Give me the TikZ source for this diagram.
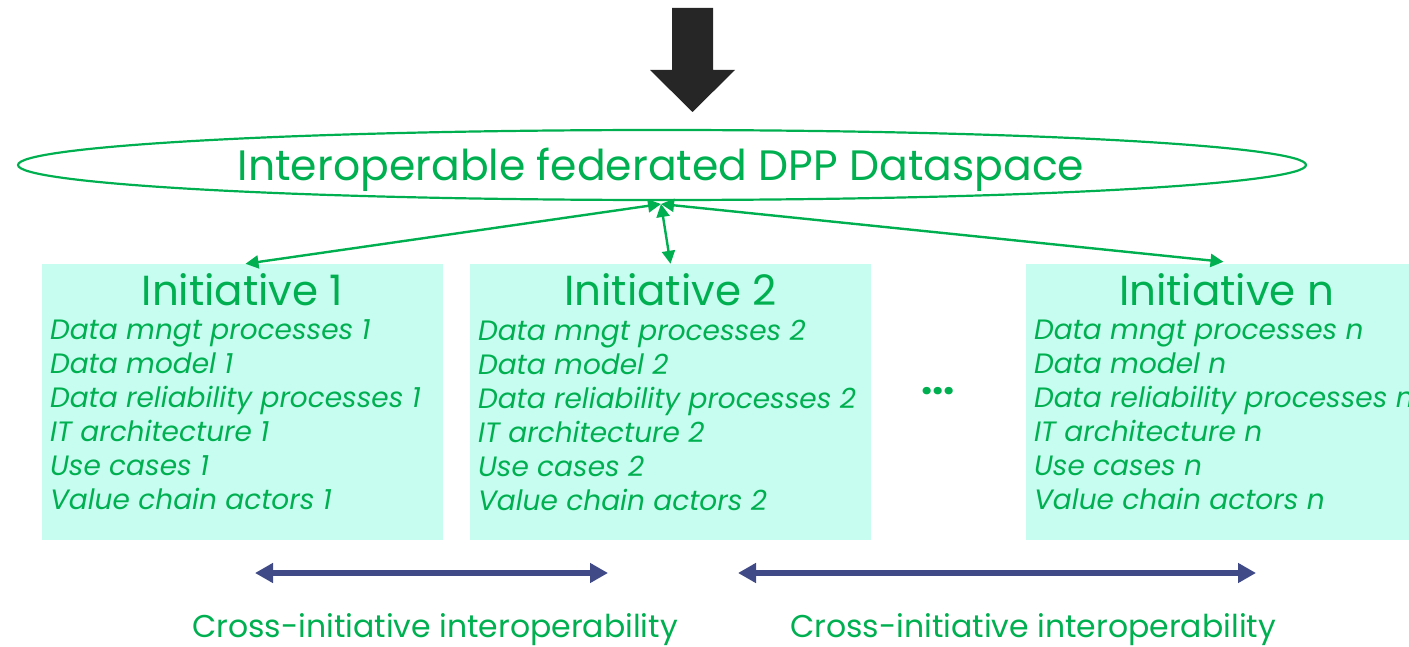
\documentclass[tikz,border=0pt]{standalone}
\usepackage{fontspec}
\setmainfont{Poppins}
\usepackage{xcolor}
\usetikzlibrary{arrows.meta, shapes.geometric, positioning}

\definecolor{dppgreen}{RGB}{0,176,80}
\definecolor{boxmint}{RGB}{199,252,241}
\definecolor{navy}{RGB}{63,74,135}
\definecolor{darkarrow}{RGB}{38,38,38}

\begin{document}
\begin{tikzpicture}[
  x=1pt, y=-1pt,
  space/.style = {
    ellipse, draw=dppgreen, line width=2.2pt,
    minimum width=1288pt, minimum height=70pt, inner sep=0pt,
    text=dppgreen, font=\fontsize{42.5}{48}\selectfont
  },
  initbox/.style = {
    rectangle, fill=boxmint, draw=none,
    minimum width=401pt, minimum height=276pt, inner sep=0pt
  },
  inittitle/.style = {text=dppgreen, font=\fontsize{42}{48}\selectfont, inner sep=0pt},
  items/.style = {
    text=dppgreen, align=left, inner sep=0pt,
    font=\fontsize{28}{34}\itshape\selectfont
  },
  garr/.style = {{Triangle[length=13pt,width=13pt]}-{Triangle[length=13pt,width=13pt]}, dppgreen, line width=2.4pt},
  narr/.style = {{Triangle[length=18pt,width=19pt]}-{Triangle[length=18pt,width=19pt]}, navy, line width=5.5pt},
  crosslabel/.style = {text=dppgreen, font=\fontsize{31.5}{36}\selectfont, inner sep=0pt}
]
\useasboundingbox (0,0) rectangle (1409,647);

% Input arrow from above
\fill[darkarrow] (672,8) -- (713,8) -- (713,70) -- (735,70) -- (692.5,112)
  -- (650,70) -- (672,70) -- cycle;

% Dataspace
\node[space] (space) at (662,165) {};
\node[text=dppgreen, font=\fontsize{42.5}{48}\selectfont, inner sep=0pt] (spacetext) at (661,170) {Interoperable federated DPP Dataspace};
\coordinate (hub) at (661,204);

% Initiatives
\foreach \id/\x/\k in {1/242.5/1, 2/670.5/2, n/1226.5/n} {
  \node[initbox] (init\id) at (\x,402) {};
  \node[inittitle, anchor=center] (title\id) at (\x,290) {Initiative \k};
  \node[items, anchor=north west] (items\id) at ([xshift=8pt,yshift=-56pt]init\id.north west)
    {Data mngt processes \k\\Data model \k\\Data reliability processes \k\\IT architecture \k\\Use cases \k\\Value chain actors \k};
}

\node[text=dppgreen, font=\fontsize{40}{40}\selectfont\bfseries] (dots) at (938,391) {...};

% Links to the dataspace
\draw[garr] (hub) -- ([xshift=3pt]init1.north);
\draw[garr] (hub) -- (init2.north);
\draw[garr] (hub) -- ([xshift=-3pt,yshift=2pt]initn.north);

% Cross-initiative interoperability
\coordinate (c1a) at (255,573);
\coordinate (c1b) at (608,573);
\coordinate (c2a) at (738,573);
\coordinate (c2b) at (1256,573);
\draw[narr] (c1a) -- (c1b);
\draw[narr] (c2a) -- (c2b);
\node[crosslabel] (cross1) at (435,630) {Cross-initiative interoperability};
\node[crosslabel] (cross2) at (1033,630) {Cross-initiative interoperability};
\end{tikzpicture}
\end{document}
